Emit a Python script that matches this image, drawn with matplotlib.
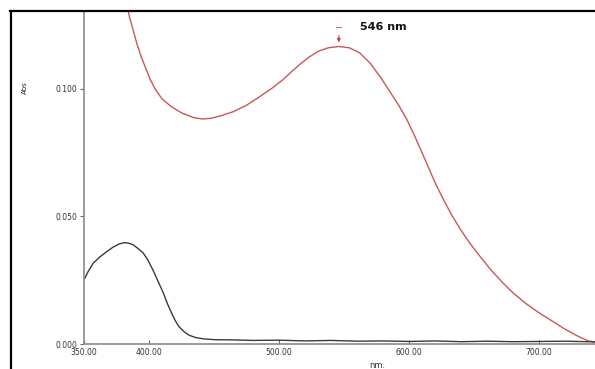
import matplotlib
matplotlib.use("Agg")
import matplotlib.pyplot as plt
from matplotlib.lines import Line2D

# red spectrum (wavelength nm, absorbance)
red_nm = [380, 383, 385, 388, 391, 394, 397.7, 401, 405, 410, 417, 425, 434,
          441, 448, 456, 465, 475, 485, 495, 503, 510, 516, 523, 530, 538,
          546, 554, 562, 570, 578, 585, 592, 598, 604, 611, 620, 627, 633,
          640, 647, 655, 663, 672, 680, 690, 700, 710, 720, 730, 738, 745]
red_abs = [0.140, 0.133, 0.128, 0.1225, 0.117, 0.1125, 0.1077, 0.1035,
           0.0996, 0.0960, 0.0930, 0.0905, 0.0887, 0.0881, 0.0884, 0.0895,
           0.0910, 0.0935, 0.0968, 0.1003, 0.1035, 0.1068, 0.1095, 0.1123,
           0.1146, 0.1160, 0.1165, 0.1160, 0.1140, 0.1100, 0.1045, 0.0990,
           0.0935, 0.0882, 0.0818, 0.0737, 0.0632, 0.0560, 0.0503, 0.0445,
           0.0393, 0.0340, 0.0290, 0.0240, 0.0200, 0.0158, 0.0122, 0.0090,
           0.0058, 0.0030, 0.0012, 0.0006]

# black spectrum
blk_nm = [350, 353, 357, 362, 367, 372, 377, 381.5, 385, 388, 392, 395.4,
          399, 403, 407, 411, 414, 417, 420, 423, 427, 431, 436, 442, 450,
          465, 480, 500, 520, 540, 560, 580, 600, 620, 640, 660, 680, 700,
          720, 745]
blk_abs = [0.0251, 0.0282, 0.0316, 0.0340, 0.0360, 0.0378, 0.0392, 0.0397,
           0.0394, 0.0388, 0.0372, 0.0357, 0.0330, 0.0290, 0.0245, 0.0200,
           0.0160, 0.0125, 0.0093, 0.0068, 0.0048, 0.0034, 0.0025, 0.0020,
           0.0017, 0.0016, 0.0014, 0.0015, 0.0012, 0.0014, 0.0011, 0.0012,
           0.0010, 0.0012, 0.0009, 0.0011, 0.0009, 0.0010, 0.0011, 0.0008]

x_ticks = [350, 400, 500, 600, 700]
x_labels = ["350.00", "400.00", "500.00", "600.00", "700.00"]
y_ticks = [0.0, 0.05, 0.10]
y_labels = ["0.000", "0.050", "0.100"]

peak_nm = 546
peak_abs = 0.1165

W, H = 595, 369
fig = plt.figure(figsize=(W / 100, H / 100), dpi=100)
ax = fig.add_axes([84 / W, (H - 344) / H, (W - 84) / W, 332 / H])

ax.plot(red_nm, red_abs, color="#c65a55", lw=1.0, solid_joinstyle="round")
ax.plot(blk_nm, blk_abs, color="#3a3a3a", lw=1.0, solid_joinstyle="round")

ax.set_xlim(350, 743)
ax.set_ylim(0, 0.130)

for side in ("top", "right"):
    ax.spines[side].set_visible(False)
for side in ("left", "bottom"):
    ax.spines[side].set_color("#8a8a8a")
    ax.spines[side].set_linewidth(1.2)

ax.set_xticks(x_ticks)
ax.set_xticklabels(x_labels)
ax.set_yticks(y_ticks)
ax.set_yticklabels(y_labels)
ax.tick_params(axis="x", direction="in", length=3, width=0.8, color="#666666",
               labelsize=5.5, labelcolor="#333333", pad=3)
ax.tick_params(axis="y", direction="out", length=3, width=0.8, color="#666666",
               labelsize=5.5, labelcolor="#333333", pad=2)

# peak marker
ax.annotate("", xy=(peak_nm, peak_abs + 0.0005), xytext=(peak_nm, 0.1218),
            arrowprops=dict(arrowstyle="-|>", color="#d03a35", lw=0.8,
                            mutation_scale=5))
ax.plot([peak_nm - 2, peak_nm + 2], [0.1243, 0.1243], color="#d07070", lw=0.8)
ax.text(562, 0.1243, "546 nm", fontsize=8, fontweight="bold", ha="left",
        va="center", color="#111111")

fig.text(25 / W, 1 - 88 / H, "Abs", rotation=90, fontsize=5, ha="center",
         va="center", color="#222222")
fig.text(377 / W, 1 - 366 / H, "nm.", fontsize=6, ha="center", va="center",
         color="#333333")

# outer frame
fig.add_artist(Line2D([10.5 / W, 10.5 / W], [0, 1 - 11 / H],
                      transform=fig.transFigure, color="black", lw=1.6))
fig.add_artist(Line2D([10 / W, 1], [1 - 11 / H, 1 - 11 / H],
                      transform=fig.transFigure, color="black", lw=1.6))

fig.savefig("out.png", dpi=100)
